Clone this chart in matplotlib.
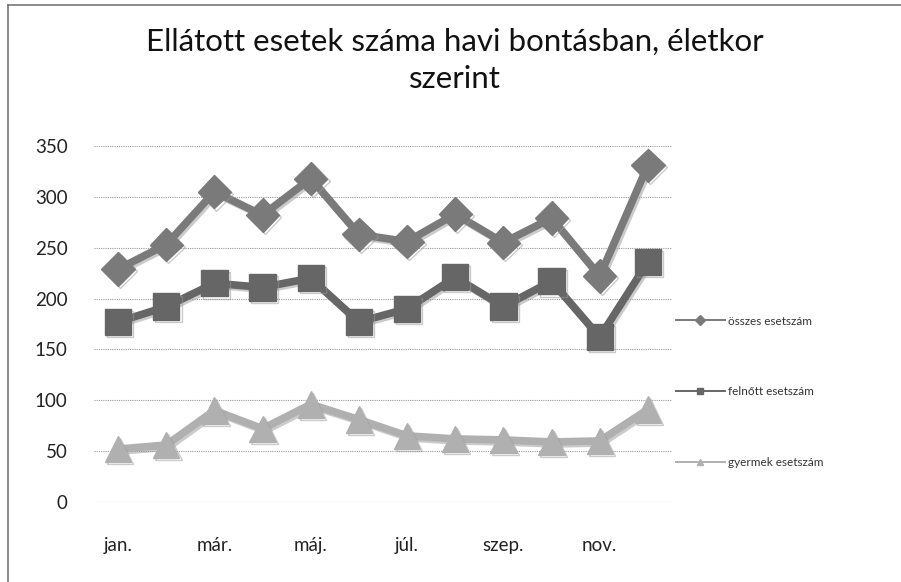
import matplotlib
matplotlib.use('Agg')
import matplotlib.pyplot as plt
import matplotlib.patheffects as pe
from matplotlib.lines import Line2D

plt.rcParams['font.family'] = ['Lato', 'DejaVu Sans']

months = ['jan.', 'febr.', 'már.', 'ápr.', 'máj.', 'jún.',
          'júl.', 'aug.', 'szep.', 'okt.', 'nov.', 'dec.']
osszes = [229, 253, 305, 282, 318, 263, 256, 283, 255, 279, 222, 331]
felnott = [177, 192, 215, 211, 220, 177, 190, 221, 192, 217, 162, 236]
gyermek = [52, 56, 90, 72, 96, 81, 65, 62, 61, 59, 60, 91]

series = [
    ('összes esetszám', osszes, '#7a7a7a', 'D', 17),
    ('felnőtt esetszám', felnott, '#666666', 's', 19),
    ('gyermek esetszám', gyermek, '#b0b0b0', '^', 19),
]

fig = plt.figure(figsize=(9.01, 5.82), dpi=100)
ax = fig.add_axes([0.1043, 0.1375, 0.6415, 0.6117])

x = list(range(len(months)))
shadow = [pe.SimpleLineShadow(offset=(1.5, -1.5), shadow_color='#999999', alpha=0.5),
          pe.Normal()]
handles = []
for label, vals, color, marker, ms in series:
    ax.plot(x, vals, color=color, lw=5.5, marker=marker, ms=ms,
            mec=color, mfc=color, path_effects=shadow, zorder=3)
    handles.append(Line2D([0], [0], color=color, lw=1.4, marker=marker,
                          ms=5, mfc=color, mec=color, label=label))

ax.set_xlim(-0.5, len(months) - 0.5)
ax.set_ylim(0, 350)
ax.set_yticks(range(0, 351, 50))
ax.set_xticks(x[::2])
ax.set_xticklabels(months[::2])
ax.yaxis.grid(True, color='#9a9a9a', lw=0.8, ls=(0, (1, 1)))
ax.set_axisbelow(True)
for s in ax.spines.values():
    s.set_visible(False)
ax.tick_params(length=0, labelsize=13.5, colors='#222222')
ax.tick_params(axis='y', pad=19)
ax.tick_params(axis='x', pad=25)

fig.text(0.505, 0.928, 'Ellátott esetek száma havi bontásban, életkor',
         ha='center', va='center', fontsize=22.5, color='#111111')
fig.text(0.505, 0.865, 'szerint', ha='center', va='center',
         fontsize=22.5, color='#111111')

fig.legend(handles=handles, loc='upper left', bbox_to_anchor=(0.738, 0.476),
           frameon=False, fontsize=8.5, labelspacing=5.05, handlelength=4.2,
           handletextpad=0.25, labelcolor='#333333')

# chart border (left and top edges)
fig.add_artist(Line2D([0.009, 0.009], [0.0, 0.991], color='#777777', lw=1.2))
fig.add_artist(Line2D([0.009, 1.0], [0.991, 0.991], color='#777777', lw=1.2))

plt.savefig('out.png', dpi=100)
